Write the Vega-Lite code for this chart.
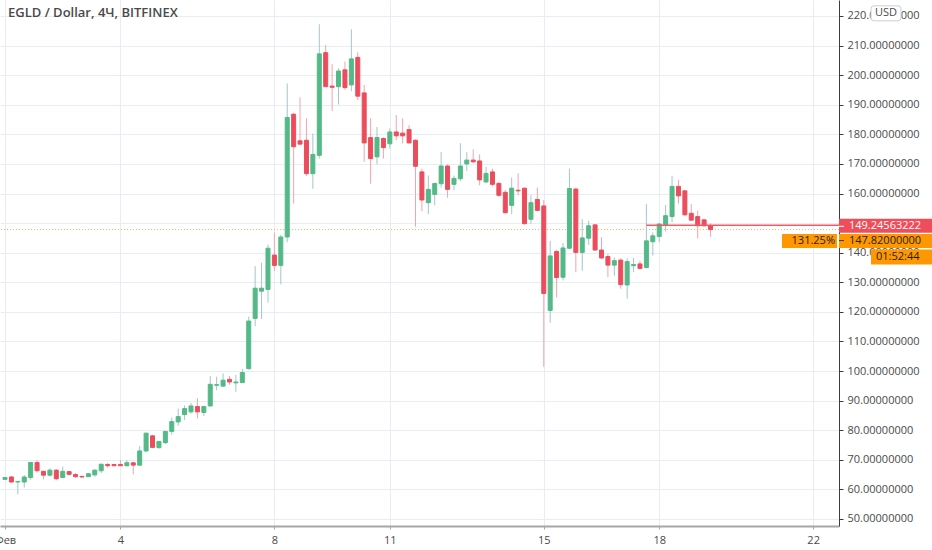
{
  "$schema": "https://vega.github.io/schema/vega-lite/v6.json",
  "description": "EGLD / Dollar 4h candles, Bitfinex, February 2021",
  "width": 839,
  "height": 526,
  "autosize": {"type": "none"},
  "padding": {"left": 0, "top": 0, "right": 93, "bottom": 24},
  "background": "#ffffff",
  "config": {
    "view": {"stroke": null},
    "font": "Open Sans",
    "axis": {"zindex": 0, "labelFont": "Open Sans", "labelFontSize": 11, "labelColor": "#4a4a4a", "gridColor": "#e7eef3", "title": null},
    "axisY": {"tickCount": 18, "labelOverlap": false, "labelFlush": false, "labelPadding": 4, "tickSize": 4, "domainColor": "#3c3c3c", "tickColor": "#3c3c3c", "format": ".8f"},
    "axisX": {"labelOverlap": false, "labelFlush": false, "labelBound": false, "labelPadding": 5, "tickSize": 3, "domainColor": "#a6a6a6", "domainWidth": 2, "tickColor": "#a6a6a6"}
  },
  "title": {
    "text": "EGLD / Dollar, 4Ч, BITFINEX",
    "anchor": "start",
    "frame": "group",
    "offset": -20,
    "dx": 8,
    "font": "Open Sans",
    "fontSize": 13,
    "fontWeight": 600,
    "color": "#4a4a4a"
  },
  "datasets": {
    "candles": [
      {"t": "2021-02-01T00:00:00Z", "o": 63.4, "h": 64.2, "l": 63.2, "c": 64.0},
      {"t": "2021-02-01T04:00:00Z", "o": 64.2, "h": 64.5, "l": 62.2, "c": 62.5},
      {"t": "2021-02-01T08:00:00Z", "o": 62.5, "h": 62.8, "l": 58.3, "c": 62.7},
      {"t": "2021-02-01T12:00:00Z", "o": 62.5, "h": 64.8, "l": 60.6, "c": 64.2},
      {"t": "2021-02-01T16:00:00Z", "o": 64.0, "h": 69.3, "l": 63.2, "c": 69.1},
      {"t": "2021-02-01T20:00:00Z", "o": 69.1, "h": 69.9, "l": 65.7, "c": 66.3},
      {"t": "2021-02-02T00:00:00Z", "o": 66.1, "h": 66.3, "l": 63.4, "c": 64.8},
      {"t": "2021-02-02T04:00:00Z", "o": 64.8, "h": 67.1, "l": 64.3, "c": 66.5},
      {"t": "2021-02-02T08:00:00Z", "o": 66.5, "h": 66.8, "l": 63.1, "c": 63.6},
      {"t": "2021-02-02T12:00:00Z", "o": 64.0, "h": 67.7, "l": 63.9, "c": 66.1},
      {"t": "2021-02-02T16:00:00Z", "o": 66.0, "h": 66.2, "l": 64.6, "c": 65.1},
      {"t": "2021-02-02T20:00:00Z", "o": 65.0, "h": 65.5, "l": 63.9, "c": 64.3},
      {"t": "2021-02-03T00:00:00Z", "o": 64.4, "h": 64.6, "l": 64.0, "c": 64.2},
      {"t": "2021-02-03T04:00:00Z", "o": 64.3, "h": 65.4, "l": 64.2, "c": 65.3},
      {"t": "2021-02-03T08:00:00Z", "o": 64.9, "h": 66.8, "l": 64.3, "c": 66.5},
      {"t": "2021-02-03T12:00:00Z", "o": 66.3, "h": 68.7, "l": 65.5, "c": 68.5},
      {"t": "2021-02-03T16:00:00Z", "o": 68.4, "h": 69.0, "l": 67.4, "c": 68.0},
      {"t": "2021-02-03T20:00:00Z", "o": 68.4, "h": 68.6, "l": 67.8, "c": 68.0},
      {"t": "2021-02-04T00:00:00Z", "o": 68.4, "h": 69.9, "l": 67.9, "c": 68.0},
      {"t": "2021-02-04T04:00:00Z", "o": 68.0, "h": 69.9, "l": 67.7, "c": 69.0},
      {"t": "2021-02-04T08:00:00Z", "o": 69.0, "h": 69.2, "l": 65.1, "c": 68.2},
      {"t": "2021-02-04T12:00:00Z", "o": 68.2, "h": 74.7, "l": 68.0, "c": 73.0},
      {"t": "2021-02-04T16:00:00Z", "o": 73.0, "h": 79.2, "l": 72.5, "c": 79.0},
      {"t": "2021-02-04T20:00:00Z", "o": 78.1, "h": 78.4, "l": 73.9, "c": 74.2},
      {"t": "2021-02-05T00:00:00Z", "o": 74.1, "h": 76.4, "l": 73.8, "c": 76.2},
      {"t": "2021-02-05T04:00:00Z", "o": 75.8, "h": 79.8, "l": 75.3, "c": 79.6},
      {"t": "2021-02-05T08:00:00Z", "o": 79.6, "h": 84.3, "l": 78.5, "c": 82.9},
      {"t": "2021-02-05T12:00:00Z", "o": 82.8, "h": 87.3, "l": 81.5, "c": 84.6},
      {"t": "2021-02-05T16:00:00Z", "o": 85.3, "h": 88.4, "l": 83.5, "c": 87.3},
      {"t": "2021-02-05T20:00:00Z", "o": 86.2, "h": 89.2, "l": 85.6, "c": 88.2},
      {"t": "2021-02-06T00:00:00Z", "o": 88.0, "h": 90.8, "l": 84.0, "c": 86.2},
      {"t": "2021-02-06T04:00:00Z", "o": 86.0, "h": 88.3, "l": 84.8, "c": 88.0},
      {"t": "2021-02-06T08:00:00Z", "o": 88.2, "h": 98.3, "l": 88.0, "c": 95.5},
      {"t": "2021-02-06T12:00:00Z", "o": 95.2, "h": 98.1, "l": 93.5, "c": 95.4},
      {"t": "2021-02-06T16:00:00Z", "o": 94.9, "h": 99.2, "l": 94.6, "c": 96.9},
      {"t": "2021-02-06T20:00:00Z", "o": 97.2, "h": 98.3, "l": 95.4, "c": 96.3},
      {"t": "2021-02-07T00:00:00Z", "o": 96.0, "h": 98.7, "l": 93.0, "c": 96.3},
      {"t": "2021-02-07T04:00:00Z", "o": 96.1, "h": 100.7, "l": 96.0, "c": 99.5},
      {"t": "2021-02-07T08:00:00Z", "o": 100.8, "h": 118.4, "l": 100.5, "c": 116.9},
      {"t": "2021-02-07T12:00:00Z", "o": 117.8, "h": 135.5, "l": 115.2, "c": 128.0},
      {"t": "2021-02-07T16:00:00Z", "o": 127.0, "h": 136.6, "l": 117.6, "c": 128.0},
      {"t": "2021-02-07T20:00:00Z", "o": 127.6, "h": 142.8, "l": 123.1, "c": 141.5},
      {"t": "2021-02-08T00:00:00Z", "o": 139.2, "h": 146.8, "l": 133.8, "c": 135.7},
      {"t": "2021-02-08T04:00:00Z", "o": 135.7, "h": 146.0, "l": 129.3, "c": 145.3},
      {"t": "2021-02-08T08:00:00Z", "o": 145.3, "h": 197.2, "l": 143.5, "c": 185.7},
      {"t": "2021-02-08T12:00:00Z", "o": 186.8, "h": 187.2, "l": 156.6, "c": 175.8},
      {"t": "2021-02-08T16:00:00Z", "o": 177.8, "h": 192.5, "l": 176.3, "c": 176.7},
      {"t": "2021-02-08T20:00:00Z", "o": 178.0, "h": 185.4, "l": 165.9, "c": 166.7},
      {"t": "2021-02-09T00:00:00Z", "o": 166.7, "h": 180.3, "l": 161.6, "c": 173.2},
      {"t": "2021-02-09T04:00:00Z", "o": 172.9, "h": 217.2, "l": 171.8, "c": 207.2},
      {"t": "2021-02-09T08:00:00Z", "o": 207.6, "h": 210.2, "l": 196.0, "c": 196.1},
      {"t": "2021-02-09T12:00:00Z", "o": 196.3, "h": 203.7, "l": 187.9, "c": 195.9},
      {"t": "2021-02-09T16:00:00Z", "o": 196.1, "h": 202.3, "l": 190.1, "c": 201.4},
      {"t": "2021-02-09T20:00:00Z", "o": 201.8, "h": 204.6, "l": 195.0, "c": 195.8},
      {"t": "2021-02-10T00:00:00Z", "o": 196.7, "h": 215.5, "l": 194.6, "c": 205.5},
      {"t": "2021-02-10T04:00:00Z", "o": 206.0, "h": 207.7, "l": 191.6, "c": 192.9},
      {"t": "2021-02-10T08:00:00Z", "o": 194.0, "h": 196.7, "l": 170.7, "c": 177.1},
      {"t": "2021-02-10T12:00:00Z", "o": 178.9, "h": 185.4, "l": 163.3, "c": 171.8},
      {"t": "2021-02-10T16:00:00Z", "o": 172.4, "h": 182.5, "l": 169.9, "c": 178.9},
      {"t": "2021-02-10T20:00:00Z", "o": 178.6, "h": 179.0, "l": 171.8, "c": 175.5},
      {"t": "2021-02-11T00:00:00Z", "o": 176.8, "h": 182.0, "l": 175.2, "c": 180.8},
      {"t": "2021-02-11T04:00:00Z", "o": 180.8, "h": 186.5, "l": 178.0, "c": 179.5},
      {"t": "2021-02-11T08:00:00Z", "o": 180.4, "h": 185.4, "l": 176.9, "c": 179.5},
      {"t": "2021-02-11T12:00:00Z", "o": 181.6, "h": 183.1, "l": 176.9, "c": 177.1},
      {"t": "2021-02-11T16:00:00Z", "o": 178.0, "h": 178.3, "l": 148.8, "c": 169.2},
      {"t": "2021-02-11T20:00:00Z", "o": 167.3, "h": 168.4, "l": 154.0, "c": 157.8},
      {"t": "2021-02-12T00:00:00Z", "o": 156.9, "h": 166.1, "l": 153.0, "c": 161.4},
      {"t": "2021-02-12T04:00:00Z", "o": 159.7, "h": 163.6, "l": 156.0, "c": 163.4},
      {"t": "2021-02-12T08:00:00Z", "o": 163.3, "h": 174.0, "l": 162.0, "c": 169.3},
      {"t": "2021-02-12T12:00:00Z", "o": 169.3, "h": 169.8, "l": 158.6, "c": 161.4},
      {"t": "2021-02-12T16:00:00Z", "o": 163.1, "h": 166.1, "l": 161.2, "c": 165.1},
      {"t": "2021-02-12T20:00:00Z", "o": 165.0, "h": 177.0, "l": 164.2, "c": 169.3},
      {"t": "2021-02-13T00:00:00Z", "o": 170.0, "h": 174.0, "l": 167.6, "c": 171.3},
      {"t": "2021-02-13T04:00:00Z", "o": 171.3, "h": 174.9, "l": 170.3, "c": 170.7},
      {"t": "2021-02-13T08:00:00Z", "o": 171.0, "h": 173.2, "l": 162.8, "c": 164.6},
      {"t": "2021-02-13T12:00:00Z", "o": 163.9, "h": 169.0, "l": 163.6, "c": 166.8},
      {"t": "2021-02-13T16:00:00Z", "o": 167.3, "h": 168.4, "l": 162.4, "c": 163.1},
      {"t": "2021-02-13T20:00:00Z", "o": 163.4, "h": 164.0, "l": 158.9, "c": 159.4},
      {"t": "2021-02-14T00:00:00Z", "o": 160.4, "h": 161.2, "l": 153.3, "c": 153.5},
      {"t": "2021-02-14T04:00:00Z", "o": 156.0, "h": 165.4, "l": 153.0, "c": 161.8},
      {"t": "2021-02-14T08:00:00Z", "o": 161.1, "h": 166.8, "l": 159.4, "c": 160.9},
      {"t": "2021-02-14T12:00:00Z", "o": 161.8, "h": 162.0, "l": 149.6, "c": 149.8},
      {"t": "2021-02-14T16:00:00Z", "o": 151.3, "h": 159.4, "l": 149.8, "c": 156.9},
      {"t": "2021-02-14T20:00:00Z", "o": 158.0, "h": 162.0, "l": 154.0, "c": 154.3},
      {"t": "2021-02-15T00:00:00Z", "o": 155.8, "h": 157.8, "l": 101.4, "c": 126.2},
      {"t": "2021-02-15T04:00:00Z", "o": 120.5, "h": 144.0, "l": 116.3, "c": 138.9},
      {"t": "2021-02-15T08:00:00Z", "o": 140.4, "h": 141.0, "l": 124.9, "c": 131.6},
      {"t": "2021-02-15T12:00:00Z", "o": 131.7, "h": 143.3, "l": 130.6, "c": 141.6},
      {"t": "2021-02-15T16:00:00Z", "o": 141.5, "h": 168.4, "l": 141.3, "c": 161.7},
      {"t": "2021-02-15T20:00:00Z", "o": 161.5, "h": 162.0, "l": 133.4, "c": 140.1},
      {"t": "2021-02-16T00:00:00Z", "o": 140.1, "h": 151.3, "l": 133.9, "c": 145.0},
      {"t": "2021-02-16T04:00:00Z", "o": 144.9, "h": 150.8, "l": 142.6, "c": 149.1},
      {"t": "2021-02-16T08:00:00Z", "o": 149.4, "h": 149.6, "l": 140.7, "c": 140.9},
      {"t": "2021-02-16T12:00:00Z", "o": 140.9, "h": 145.2, "l": 137.9, "c": 138.2},
      {"t": "2021-02-16T16:00:00Z", "o": 138.7, "h": 139.6, "l": 131.7, "c": 135.8},
      {"t": "2021-02-16T20:00:00Z", "o": 135.8, "h": 138.4, "l": 132.2, "c": 137.3},
      {"t": "2021-02-17T00:00:00Z", "o": 137.5, "h": 138.1, "l": 127.8, "c": 129.2},
      {"t": "2021-02-17T04:00:00Z", "o": 129.1, "h": 138.1, "l": 124.4, "c": 137.0},
      {"t": "2021-02-17T08:00:00Z", "o": 135.6, "h": 138.2, "l": 133.4, "c": 136.0},
      {"t": "2021-02-17T12:00:00Z", "o": 136.2, "h": 137.3, "l": 134.3, "c": 134.7},
      {"t": "2021-02-17T16:00:00Z", "o": 135.0, "h": 156.4, "l": 134.7, "c": 144.0},
      {"t": "2021-02-17T20:00:00Z", "o": 143.7, "h": 146.8, "l": 139.0, "c": 145.7},
      {"t": "2021-02-18T00:00:00Z", "o": 145.5, "h": 149.9, "l": 143.6, "c": 149.7},
      {"t": "2021-02-18T04:00:00Z", "o": 149.4, "h": 156.1, "l": 147.1, "c": 152.5},
      {"t": "2021-02-18T08:00:00Z", "o": 152.2, "h": 166.0, "l": 150.2, "c": 162.4},
      {"t": "2021-02-18T12:00:00Z", "o": 162.4, "h": 164.6, "l": 156.6, "c": 159.2},
      {"t": "2021-02-18T16:00:00Z", "o": 160.9, "h": 161.0, "l": 152.5, "c": 152.8},
      {"t": "2021-02-18T20:00:00Z", "o": 153.3, "h": 156.4, "l": 150.8, "c": 151.0},
      {"t": "2021-02-19T00:00:00Z", "o": 152.2, "h": 154.2, "l": 144.8, "c": 149.1},
      {"t": "2021-02-19T04:00:00Z", "o": 151.1, "h": 151.3, "l": 148.8, "c": 149.1},
      {"t": "2021-02-19T08:00:00Z", "o": 149.1, "h": 149.9, "l": 145.4, "c": 147.82}
    ],
    "lastPrice": [{"price": 147.82, "label": "147.82000000", "pct": "131.25%", "timer": "01:52:44"}],
    "hline": [{"t": "2021-02-17T16:00:00Z", "price": 149.24563222, "label": "149.24563222"}],
    "badge": [{"price": 220.9, "label": "USD"}]
  },
  "layer": [
    {
      "data": {"name": "candles"},
      "mark": {"type": "rule", "strokeWidth": 1},
      "encoding": {
        "x": {
          "field": "t",
          "type": "temporal",
          "title": null,
          "scale": {
            "type": "utc",
            "domain": [
              {"year": 2021, "month": 2, "date": 1, "hours": 0, "utc": true},
              {"year": 2021, "month": 2, "date": 22, "hours": 13, "utc": true}
            ]
          },
          "axis": {
            "values": [
              {"year": 2021, "month": 2, "date": 1, "utc": true},
              {"year": 2021, "month": 2, "date": 4, "utc": true},
              {"year": 2021, "month": 2, "date": 8, "utc": true},
              {"year": 2021, "month": 2, "date": 11, "utc": true},
              {"year": 2021, "month": 2, "date": 15, "utc": true},
              {"year": 2021, "month": 2, "date": 18, "utc": true},
              {"year": 2021, "month": 2, "date": 22, "utc": true}
            ],
            "labelExpr": "utcdate(datum.value) == 1 ? 'Фев' : '' + utcdate(datum.value)",
            "grid": true
          }
        },
        "y": {
          "field": "l",
          "type": "quantitative",
          "title": null,
          "scale": {"domain": [47.63, 225.4], "nice": false, "zero": false},
          "axis": {
            "orient": "right",
            "values": [50, 60, 70, 80, 90, 100, 110, 120, 130, 140, 150, 160, 170, 180, 190, 200, 210, 220],
            "grid": true
          }
        },
        "y2": {"field": "h"},
        "color": {
          "condition": {"test": "datum.c >= datum.o", "value": "#a3c6ca"},
          "value": "#f5a3ab"
        }
      }
    },
    {
      "data": {"name": "lastPrice"},
      "mark": {"type": "rule", "color": "#f9b46b", "strokeWidth": 1, "strokeDash": [1, 2]},
      "encoding": {
        "y": {"field": "price", "type": "quantitative", "title": null}
      }
    },
    {
      "data": {"name": "candles"},
      "mark": {"type": "bar", "width": 4, "strokeWidth": 1},
      "encoding": {
        "x": {"field": "t", "type": "temporal", "title": null},
        "y": {"field": "o", "type": "quantitative", "title": null},
        "y2": {"field": "c"},
        "color": {
          "condition": {"test": "datum.c >= datum.o", "value": "#53b987"},
          "value": "#eb4d5c"
        },
        "stroke": {
          "condition": {"test": "datum.c >= datum.o", "value": "#53b987"},
          "value": "#eb4d5c"
        }
      }
    },
    {
      "data": {"name": "hline"},
      "mark": {"type": "rule", "color": "#f05a66", "strokeWidth": 1.5},
      "encoding": {
        "x": {"field": "t", "type": "temporal", "title": null},
        "x2": {"value": "width"},
        "y": {"field": "price", "type": "quantitative", "title": null}
      }
    },
    {
      "data": {"name": "hline"},
      "mark": {"type": "rule", "color": "#f04d5a", "strokeWidth": 14, "x2Offset": 93, "yOffset": 0.5},
      "encoding": {
        "x": {"value": "width"},
        "x2": {"value": "width"},
        "y": {"field": "price", "type": "quantitative", "title": null}
      }
    },
    {
      "data": {"name": "hline"},
      "mark": {"type": "rule", "color": "#ffffff", "strokeWidth": 1, "x2Offset": 5, "yOffset": 1},
      "encoding": {
        "x": {"value": "width"},
        "x2": {"value": "width"},
        "y": {"field": "price", "type": "quantitative", "title": null}
      }
    },
    {
      "data": {"name": "hline"},
      "mark": {"type": "text", "align": "left", "baseline": "middle", "dx": 10, "yOffset": 1, "color": "#ffffff", "font": "Open Sans", "fontSize": 11},
      "encoding": {
        "x": {"value": "width"},
        "y": {"field": "price", "type": "quantitative", "title": null},
        "text": {"field": "label"}
      }
    },
    {
      "data": {"name": "lastPrice"},
      "mark": {"type": "rule", "color": "#ff9800", "strokeWidth": 14, "x2Offset": 93, "yOffset": 11.5},
      "encoding": {
        "x": {"value": "width"},
        "x2": {"value": "width"},
        "y": {"field": "price", "type": "quantitative", "title": null}
      }
    },
    {
      "data": {"name": "lastPrice"},
      "mark": {"type": "rule", "color": "#3c3c3c", "strokeWidth": 1, "x2Offset": 5, "yOffset": 11},
      "encoding": {
        "x": {"value": "width"},
        "x2": {"value": "width"},
        "y": {"field": "price", "type": "quantitative", "title": null}
      }
    },
    {
      "data": {"name": "lastPrice"},
      "mark": {"type": "rule", "color": "#ff9800", "strokeWidth": 14, "xOffset": -57, "x2Offset": -2, "yOffset": 11.5},
      "encoding": {
        "x": {"value": "width"},
        "x2": {"value": "width"},
        "y": {"field": "price", "type": "quantitative", "title": null}
      }
    },
    {
      "data": {"name": "lastPrice"},
      "mark": {"type": "rule", "color": "#ff9800", "strokeWidth": 15, "xOffset": 32, "x2Offset": 93, "yOffset": 27.5},
      "encoding": {
        "x": {"value": "width"},
        "x2": {"value": "width"},
        "y": {"field": "price", "type": "quantitative", "title": null}
      }
    },
    {
      "data": {"name": "lastPrice"},
      "mark": {"type": "text", "align": "left", "baseline": "middle", "dx": 10, "yOffset": 11, "color": "#1e1e1e", "font": "Open Sans", "fontSize": 11},
      "encoding": {
        "x": {"value": "width"},
        "y": {"field": "price", "type": "quantitative", "title": null},
        "text": {"field": "label"}
      }
    },
    {
      "data": {"name": "lastPrice"},
      "mark": {"type": "text", "align": "right", "baseline": "middle", "dx": -4, "yOffset": 11, "color": "#1e1e1e", "font": "Open Sans", "fontSize": 11},
      "encoding": {
        "x": {"value": "width"},
        "y": {"field": "price", "type": "quantitative", "title": null},
        "text": {"field": "pct"}
      }
    },
    {
      "data": {"name": "lastPrice"},
      "mark": {"type": "text", "align": "left", "baseline": "middle", "dx": 37, "yOffset": 27.5, "color": "#1e1e1e", "font": "Open Sans", "fontSize": 11},
      "encoding": {
        "x": {"value": "width"},
        "y": {"field": "price", "type": "quantitative", "title": null},
        "text": {"field": "timer"}
      }
    },
    {
      "data": {"name": "badge"},
      "mark": {
        "type": "point",
        "filled": true,
        "fill": "#ffffff",
        "stroke": "#c9ced3",
        "strokeWidth": 1,
        "opacity": 1,
        "size": 900,
        "xOffset": 47,
        "shape": "M -0.8 -0.5 L 0.8 -0.5 Q 1 -0.5 1 -0.3 L 1 0.3 Q 1 0.5 0.8 0.5 L -0.8 0.5 Q -1 0.5 -1 0.3 L -1 -0.3 Q -1 -0.5 -0.8 -0.5 Z"
      },
      "encoding": {
        "x": {"value": "width"},
        "y": {"field": "price", "type": "quantitative", "title": null}
      }
    },
    {
      "data": {"name": "badge"},
      "mark": {"type": "text", "align": "center", "baseline": "middle", "dx": 47, "color": "#4a4a4a", "font": "Open Sans", "fontSize": 11},
      "encoding": {
        "x": {"value": "width"},
        "y": {"field": "price", "type": "quantitative", "title": null},
        "text": {"field": "label"}
      }
    }
  ]
}
